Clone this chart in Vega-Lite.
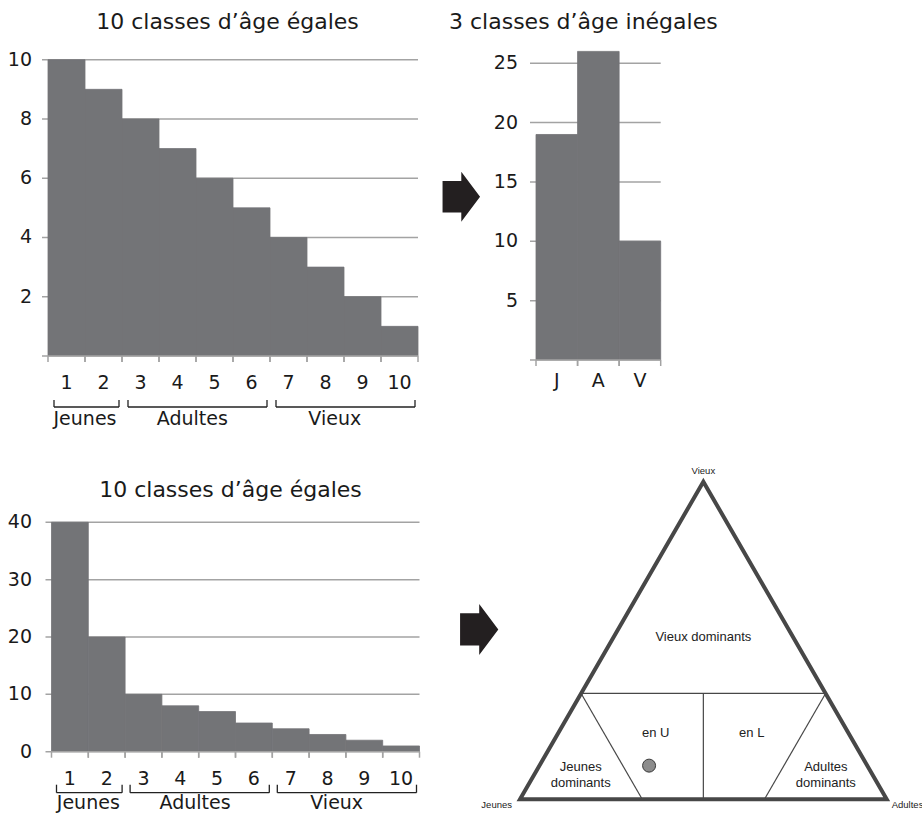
{
  "$schema": "https://vega.github.io/schema/vega-lite/v6.json",
  "width": 922,
  "height": 814,
  "autosize": {"type": "none"},
  "padding": 0,
  "background": "white",
  "config": {"view": {"stroke": null}, "text": {"font": "DejaVu Sans", "color": "#1a1a1a"}},
  "datasets": {
    "histA": [
      {"cls": 1, "lo": 0, "hi": 1, "n": 10}, {"cls": 2, "lo": 1, "hi": 2, "n": 9},
      {"cls": 3, "lo": 2, "hi": 3, "n": 8}, {"cls": 4, "lo": 3, "hi": 4, "n": 7},
      {"cls": 5, "lo": 4, "hi": 5, "n": 6}, {"cls": 6, "lo": 5, "hi": 6, "n": 5},
      {"cls": 7, "lo": 6, "hi": 7, "n": 4}, {"cls": 8, "lo": 7, "hi": 8, "n": 3},
      {"cls": 9, "lo": 8, "hi": 9, "n": 2}, {"cls": 10, "lo": 9, "hi": 10, "n": 1}
    ],
    "histB": [
      {"cls": "J", "lo": 0, "hi": 1, "n": 19},
      {"cls": "A", "lo": 1, "hi": 2, "n": 26},
      {"cls": "V", "lo": 2, "hi": 3, "n": 10}
    ],
    "histC": [
      {"cls": 1, "lo": 0, "hi": 1, "n": 40}, {"cls": 2, "lo": 1, "hi": 2, "n": 20},
      {"cls": 3, "lo": 2, "hi": 3, "n": 10}, {"cls": 4, "lo": 3, "hi": 4, "n": 8},
      {"cls": 5, "lo": 4, "hi": 5, "n": 7}, {"cls": 6, "lo": 5, "hi": 6, "n": 5},
      {"cls": 7, "lo": 6, "hi": 7, "n": 4}, {"cls": 8, "lo": 7, "hi": 8, "n": 3},
      {"cls": 9, "lo": 8, "hi": 9, "n": 2}, {"cls": 10, "lo": 9, "hi": 10, "n": 1}
    ],
    "gridA": [{"v": 0}, {"v": 2}, {"v": 4}, {"v": 6}, {"v": 8}, {"v": 10}],
    "gridB": [{"v": 0}, {"v": 5}, {"v": 10}, {"v": 15}, {"v": 20}, {"v": 25}],
    "gridC": [{"v": 0}, {"v": 10}, {"v": 20}, {"v": 30}, {"v": 40}],
    "groups": [
      {"grp": "Jeunes", "lo": 0, "hi": 2, "mid": 1},
      {"grp": "Adultes", "lo": 2, "hi": 6, "mid": 3.9},
      {"grp": "Vieux", "lo": 6, "hi": 10, "mid": 7.75}
    ],
    "tri": [{"x": 0, "y": 0, "o": 1}, {"x": 0.5, "y": 1, "o": 2}, {"x": 1, "y": 0, "o": 3}],
    "seg": [
      {"x": 0.1667, "y": 0.3333, "x2": 0.8333, "y2": 0.3333},
      {"x": 0.5, "y": 0, "x2": 0.5, "y2": 0.3333},
      {"x": 0.1667, "y": 0.3333, "x2": 0.3333, "y2": 0},
      {"x": 0.8333, "y": 0.3333, "x2": 0.6667, "y2": 0}
    ],
    "zones": [
      {"t": "Vieux dominants", "x": 0.5, "y": 0.512},
      {"t": "en U", "x": 0.37, "y": 0.208},
      {"t": "en L", "x": 0.632, "y": 0.208},
      {"t": ["Jeunes", "dominants"], "x": 0.1655, "y": 0.101},
      {"t": ["Adultes", "dominants"], "x": 0.834, "y": 0.101}
    ],
    "sample": [{"x": 0.352, "y": 0.106}]
  },
  "layer": [
    {
      "layer": [
        {"data": {"name": "gridA"}, "transform": [{"filter": "datum.v > 0"}],
         "mark": {"type": "rule", "xOffset": -6, "color": "#a3a3a3", "strokeWidth": 1.5},
         "encoding": {
           "y": {"field": "v", "type": "quantitative", "scale": {"domain": [0, 10], "range": [356, 59.7], "nice": false, "zero": false}, "axis": null},
           "x": {"datum": 0, "type": "quantitative", "scale": {"domain": [0, 10], "range": [48, 418], "nice": false, "zero": false}, "axis": null},
           "x2": {"datum": 10}}},
        {"data": {"name": "histA"}, "mark": {"type": "rect", "color": "#737477", "stroke": "#737477", "strokeWidth": 0.8},
         "encoding": {
           "x": {"field": "lo", "type": "quantitative", "scale": {"domain": [0, 10], "range": [48, 418], "nice": false, "zero": false}, "axis": null},
           "x2": {"field": "hi"},
           "y": {"field": "n", "type": "quantitative", "scale": {"domain": [0, 10], "range": [356, 59.7], "nice": false, "zero": false}, "axis": null},
           "y2": {"datum": 0}}},
        {"data": {"name": "gridA"}, "transform": [{"filter": "datum.v == 0"}],
         "mark": {"type": "rule", "xOffset": -6, "color": "#a3a3a3", "strokeWidth": 1.5},
         "encoding": {
           "y": {"field": "v", "type": "quantitative", "scale": {"domain": [0, 10], "range": [356, 59.7], "nice": false, "zero": false}, "axis": null},
           "x": {"datum": 0, "type": "quantitative", "scale": {"domain": [0, 10], "range": [48, 418], "nice": false, "zero": false}, "axis": null},
           "x2": {"datum": 10}}},
        {"data": {"name": "histA"}, "mark": {"type": "rule", "y2Offset": 6, "color": "#a3a3a3", "strokeWidth": 1.5},
         "encoding": {
           "x": {"field": "lo", "type": "quantitative", "scale": {"domain": [0, 10], "range": [48, 418], "nice": false, "zero": false}, "axis": null},
           "y": {"datum": 0, "type": "quantitative", "scale": {"domain": [0, 10], "range": [356, 59.7], "nice": false, "zero": false}, "axis": null},
           "y2": {"datum": 0}}},
        {"data": {"name": "histA"}, "mark": {"type": "rule", "y2Offset": 6, "color": "#a3a3a3", "strokeWidth": 1.5},
         "encoding": {
           "x": {"field": "hi", "type": "quantitative", "scale": {"domain": [0, 10], "range": [48, 418], "nice": false, "zero": false}, "axis": null},
           "y": {"datum": 0, "type": "quantitative", "scale": {"domain": [0, 10], "range": [356, 59.7], "nice": false, "zero": false}, "axis": null},
           "y2": {"datum": 0}}},
        {"data": {"name": "histA"}, "mark": {"type": "text", "dx": 18.5, "dy": 27, "fontSize": 19},
         "encoding": {
           "x": {"field": "lo", "type": "quantitative", "scale": {"domain": [0, 10], "range": [48, 418], "nice": false, "zero": false}, "axis": null},
           "y": {"datum": 0, "type": "quantitative", "scale": {"domain": [0, 10], "range": [356, 59.7], "nice": false, "zero": false}, "axis": null},
           "text": {"field": "cls", "type": "nominal"}}},
        {"data": {"name": "gridA"}, "transform": [{"filter": "datum.v > 0"}],
         "mark": {"type": "text", "align": "right", "dx": -16, "fontSize": 19},
         "encoding": {
           "x": {"datum": 0, "type": "quantitative", "scale": {"domain": [0, 10], "range": [48, 418], "nice": false, "zero": false}, "axis": null},
           "y": {"field": "v", "type": "quantitative", "scale": {"domain": [0, 10], "range": [356, 59.7], "nice": false, "zero": false}, "axis": null},
           "text": {"field": "v", "type": "nominal"}}},
        {"data": {"name": "groups"}, "mark": {"type": "rule", "xOffset": 6, "x2Offset": -3, "yOffset": 51, "color": "#222222", "strokeWidth": 1.3},
         "encoding": {
           "x": {"field": "lo", "type": "quantitative", "scale": {"domain": [0, 10], "range": [48, 418], "nice": false, "zero": false}, "axis": null},
           "x2": {"field": "hi"},
           "y": {"datum": 0, "type": "quantitative", "scale": {"domain": [0, 10], "range": [356, 59.7], "nice": false, "zero": false}, "axis": null}}},
        {"data": {"name": "groups"}, "mark": {"type": "rule", "xOffset": 6, "yOffset": 44, "y2Offset": 51, "color": "#222222", "strokeWidth": 1.3},
         "encoding": {
           "x": {"field": "lo", "type": "quantitative", "scale": {"domain": [0, 10], "range": [48, 418], "nice": false, "zero": false}, "axis": null},
           "y": {"datum": 0, "type": "quantitative", "scale": {"domain": [0, 10], "range": [356, 59.7], "nice": false, "zero": false}, "axis": null},
           "y2": {"datum": 0}}},
        {"data": {"name": "groups"}, "mark": {"type": "rule", "xOffset": -3, "yOffset": 44, "y2Offset": 51, "color": "#222222", "strokeWidth": 1.3},
         "encoding": {
           "x": {"field": "hi", "type": "quantitative", "scale": {"domain": [0, 10], "range": [48, 418], "nice": false, "zero": false}, "axis": null},
           "y": {"datum": 0, "type": "quantitative", "scale": {"domain": [0, 10], "range": [356, 59.7], "nice": false, "zero": false}, "axis": null},
           "y2": {"datum": 0}}},
        {"data": {"name": "groups"}, "mark": {"type": "text", "dy": 63, "fontSize": 19},
         "encoding": {
           "x": {"field": "mid", "type": "quantitative", "scale": {"domain": [0, 10], "range": [48, 418], "nice": false, "zero": false}, "axis": null},
           "y": {"datum": 0, "type": "quantitative", "scale": {"domain": [0, 10], "range": [356, 59.7], "nice": false, "zero": false}, "axis": null},
           "text": {"field": "grp", "type": "nominal"}}},
        {"data": {"values": [{"t": "10 classes d’âge égales"}]}, "mark": {"type": "text", "dx": -5.5, "dy": -38, "fontSize": 22},
         "encoding": {
           "x": {"datum": 5, "type": "quantitative", "scale": {"domain": [0, 10], "range": [48, 418], "nice": false, "zero": false}, "axis": null},
           "y": {"datum": 10, "type": "quantitative", "scale": {"domain": [0, 10], "range": [356, 59.7], "nice": false, "zero": false}, "axis": null},
           "text": {"field": "t", "type": "nominal"}}}
      ]
    },
    {
      "layer": [
        {"data": {"name": "gridB"}, "transform": [{"filter": "datum.v > 0"}],
         "mark": {"type": "rule", "xOffset": -6, "color": "#a3a3a3", "strokeWidth": 1.5},
         "encoding": {
           "y": {"field": "v", "type": "quantitative", "scale": {"domain": [0, 26], "range": [360, 51.4], "nice": false, "zero": false}, "axis": null},
           "x": {"datum": 0, "type": "quantitative", "scale": {"domain": [0, 3], "range": [536, 660.7], "nice": false, "zero": false}, "axis": null},
           "x2": {"datum": 3}}},
        {"data": {"name": "histB"}, "mark": {"type": "rect", "color": "#737477", "stroke": "#737477", "strokeWidth": 0.8},
         "encoding": {
           "x": {"field": "lo", "type": "quantitative", "scale": {"domain": [0, 3], "range": [536, 660.7], "nice": false, "zero": false}, "axis": null},
           "x2": {"field": "hi"},
           "y": {"field": "n", "type": "quantitative", "scale": {"domain": [0, 26], "range": [360, 51.4], "nice": false, "zero": false}, "axis": null},
           "y2": {"datum": 0}}},
        {"data": {"name": "gridB"}, "transform": [{"filter": "datum.v == 0"}],
         "mark": {"type": "rule", "xOffset": -6, "color": "#a3a3a3", "strokeWidth": 1.5},
         "encoding": {
           "y": {"field": "v", "type": "quantitative", "scale": {"domain": [0, 26], "range": [360, 51.4], "nice": false, "zero": false}, "axis": null},
           "x": {"datum": 0, "type": "quantitative", "scale": {"domain": [0, 3], "range": [536, 660.7], "nice": false, "zero": false}, "axis": null},
           "x2": {"datum": 3}}},
        {"data": {"name": "histB"}, "mark": {"type": "rule", "y2Offset": 6, "color": "#a3a3a3", "strokeWidth": 1.5},
         "encoding": {
           "x": {"field": "lo", "type": "quantitative", "scale": {"domain": [0, 3], "range": [536, 660.7], "nice": false, "zero": false}, "axis": null},
           "y": {"datum": 0, "type": "quantitative", "scale": {"domain": [0, 26], "range": [360, 51.4], "nice": false, "zero": false}, "axis": null},
           "y2": {"datum": 0}}},
        {"data": {"name": "histB"}, "mark": {"type": "rule", "y2Offset": 6, "color": "#a3a3a3", "strokeWidth": 1.5},
         "encoding": {
           "x": {"field": "hi", "type": "quantitative", "scale": {"domain": [0, 3], "range": [536, 660.7], "nice": false, "zero": false}, "axis": null},
           "y": {"datum": 0, "type": "quantitative", "scale": {"domain": [0, 26], "range": [360, 51.4], "nice": false, "zero": false}, "axis": null},
           "y2": {"datum": 0}}},
        {"data": {"name": "histB"}, "mark": {"type": "text", "dx": 20.8, "dy": 21, "fontSize": 19},
         "encoding": {
           "x": {"field": "lo", "type": "quantitative", "scale": {"domain": [0, 3], "range": [536, 660.7], "nice": false, "zero": false}, "axis": null},
           "y": {"datum": 0, "type": "quantitative", "scale": {"domain": [0, 26], "range": [360, 51.4], "nice": false, "zero": false}, "axis": null},
           "text": {"field": "cls", "type": "nominal"}}},
        {"data": {"name": "gridB"}, "transform": [{"filter": "datum.v > 0"}],
         "mark": {"type": "text", "align": "right", "dx": -18, "fontSize": 19},
         "encoding": {
           "x": {"datum": 0, "type": "quantitative", "scale": {"domain": [0, 3], "range": [536, 660.7], "nice": false, "zero": false}, "axis": null},
           "y": {"field": "v", "type": "quantitative", "scale": {"domain": [0, 26], "range": [360, 51.4], "nice": false, "zero": false}, "axis": null},
           "text": {"field": "v", "type": "nominal"}}},
        {"data": {"values": [{"t": "3 classes d’âge inégales"}]}, "mark": {"type": "text", "dx": -15, "dy": -29.5, "fontSize": 22},
         "encoding": {
           "x": {"datum": 1.5, "type": "quantitative", "scale": {"domain": [0, 3], "range": [536, 660.7], "nice": false, "zero": false}, "axis": null},
           "y": {"datum": 26, "type": "quantitative", "scale": {"domain": [0, 26], "range": [360, 51.4], "nice": false, "zero": false}, "axis": null},
           "text": {"field": "t", "type": "nominal"}}},
        {"data": {"values": [{}]},
         "mark": {"type": "point", "shape": "M-0.75,-0.63L0,-0.63L0,-1L0.75,0L0,1L0,0.63L-0.75,0.63Z", "size": 2500, "filled": true, "color": "#231f20", "opacity": 1, "xOffset": -74.7},
         "encoding": {
           "x": {"datum": 0, "type": "quantitative", "scale": {"domain": [0, 3], "range": [536, 660.7], "nice": false, "zero": false}, "axis": null},
           "y": {"datum": 13.76, "type": "quantitative", "scale": {"domain": [0, 26], "range": [360, 51.4], "nice": false, "zero": false}, "axis": null}}}
      ]
    },
    {
      "layer": [
        {"data": {"name": "gridC"}, "transform": [{"filter": "datum.v > 0"}],
         "mark": {"type": "rule", "xOffset": -6, "color": "#a3a3a3", "strokeWidth": 1.5},
         "encoding": {
           "y": {"field": "v", "type": "quantitative", "scale": {"domain": [0, 40], "range": [751.7, 522.3], "nice": false, "zero": false}, "axis": null},
           "x": {"datum": 0, "type": "quantitative", "scale": {"domain": [0, 10], "range": [51.5, 419.5], "nice": false, "zero": false}, "axis": null},
           "x2": {"datum": 10}}},
        {"data": {"name": "histC"}, "mark": {"type": "rect", "color": "#737477", "stroke": "#737477", "strokeWidth": 0.8},
         "encoding": {
           "x": {"field": "lo", "type": "quantitative", "scale": {"domain": [0, 10], "range": [51.5, 419.5], "nice": false, "zero": false}, "axis": null},
           "x2": {"field": "hi"},
           "y": {"field": "n", "type": "quantitative", "scale": {"domain": [0, 40], "range": [751.7, 522.3], "nice": false, "zero": false}, "axis": null},
           "y2": {"datum": 0}}},
        {"data": {"name": "gridC"}, "transform": [{"filter": "datum.v == 0"}],
         "mark": {"type": "rule", "xOffset": -6, "color": "#a3a3a3", "strokeWidth": 1.5},
         "encoding": {
           "y": {"field": "v", "type": "quantitative", "scale": {"domain": [0, 40], "range": [751.7, 522.3], "nice": false, "zero": false}, "axis": null},
           "x": {"datum": 0, "type": "quantitative", "scale": {"domain": [0, 10], "range": [51.5, 419.5], "nice": false, "zero": false}, "axis": null},
           "x2": {"datum": 10}}},
        {"data": {"name": "histC"}, "mark": {"type": "rule", "y2Offset": 6, "color": "#a3a3a3", "strokeWidth": 1.5},
         "encoding": {
           "x": {"field": "lo", "type": "quantitative", "scale": {"domain": [0, 10], "range": [51.5, 419.5], "nice": false, "zero": false}, "axis": null},
           "y": {"datum": 0, "type": "quantitative", "scale": {"domain": [0, 40], "range": [751.7, 522.3], "nice": false, "zero": false}, "axis": null},
           "y2": {"datum": 0}}},
        {"data": {"name": "histC"}, "mark": {"type": "rule", "y2Offset": 6, "color": "#a3a3a3", "strokeWidth": 1.5},
         "encoding": {
           "x": {"field": "hi", "type": "quantitative", "scale": {"domain": [0, 10], "range": [51.5, 419.5], "nice": false, "zero": false}, "axis": null},
           "y": {"datum": 0, "type": "quantitative", "scale": {"domain": [0, 40], "range": [751.7, 522.3], "nice": false, "zero": false}, "axis": null},
           "y2": {"datum": 0}}},
        {"data": {"name": "histC"}, "mark": {"type": "text", "dx": 18.4, "dy": 27, "fontSize": 19},
         "encoding": {
           "x": {"field": "lo", "type": "quantitative", "scale": {"domain": [0, 10], "range": [51.5, 419.5], "nice": false, "zero": false}, "axis": null},
           "y": {"datum": 0, "type": "quantitative", "scale": {"domain": [0, 40], "range": [751.7, 522.3], "nice": false, "zero": false}, "axis": null},
           "text": {"field": "cls", "type": "nominal"}}},
        {"data": {"name": "gridC"},
         "mark": {"type": "text", "align": "right", "dx": -19.5, "fontSize": 19},
         "encoding": {
           "x": {"datum": 0, "type": "quantitative", "scale": {"domain": [0, 10], "range": [51.5, 419.5], "nice": false, "zero": false}, "axis": null},
           "y": {"field": "v", "type": "quantitative", "scale": {"domain": [0, 40], "range": [751.7, 522.3], "nice": false, "zero": false}, "axis": null},
           "text": {"field": "v", "type": "nominal"}}},
        {"data": {"name": "groups"}, "mark": {"type": "rule", "xOffset": 5, "x2Offset": -3, "yOffset": 41, "color": "#222222", "strokeWidth": 1.3},
         "encoding": {
           "x": {"field": "lo", "type": "quantitative", "scale": {"domain": [0, 10], "range": [51.5, 419.5], "nice": false, "zero": false}, "axis": null},
           "x2": {"field": "hi"},
           "y": {"datum": 0, "type": "quantitative", "scale": {"domain": [0, 40], "range": [751.7, 522.3], "nice": false, "zero": false}, "axis": null}}},
        {"data": {"name": "groups"}, "mark": {"type": "rule", "xOffset": 5, "yOffset": 33, "y2Offset": 41, "color": "#222222", "strokeWidth": 1.3},
         "encoding": {
           "x": {"field": "lo", "type": "quantitative", "scale": {"domain": [0, 10], "range": [51.5, 419.5], "nice": false, "zero": false}, "axis": null},
           "y": {"datum": 0, "type": "quantitative", "scale": {"domain": [0, 40], "range": [751.7, 522.3], "nice": false, "zero": false}, "axis": null},
           "y2": {"datum": 0}}},
        {"data": {"name": "groups"}, "mark": {"type": "rule", "xOffset": -3, "yOffset": 33, "y2Offset": 41, "color": "#222222", "strokeWidth": 1.3},
         "encoding": {
           "x": {"field": "hi", "type": "quantitative", "scale": {"domain": [0, 10], "range": [51.5, 419.5], "nice": false, "zero": false}, "axis": null},
           "y": {"datum": 0, "type": "quantitative", "scale": {"domain": [0, 40], "range": [751.7, 522.3], "nice": false, "zero": false}, "axis": null},
           "y2": {"datum": 0}}},
        {"data": {"name": "groups"}, "mark": {"type": "text", "dy": 51, "fontSize": 19},
         "encoding": {
           "x": {"field": "mid", "type": "quantitative", "scale": {"domain": [0, 10], "range": [51.5, 419.5], "nice": false, "zero": false}, "axis": null},
           "y": {"datum": 0, "type": "quantitative", "scale": {"domain": [0, 40], "range": [751.7, 522.3], "nice": false, "zero": false}, "axis": null},
           "text": {"field": "grp", "type": "nominal"}}},
        {"data": {"values": [{"t": "10 classes d’âge égales"}]}, "mark": {"type": "text", "dx": -5, "dy": -32, "fontSize": 22},
         "encoding": {
           "x": {"datum": 5, "type": "quantitative", "scale": {"domain": [0, 10], "range": [51.5, 419.5], "nice": false, "zero": false}, "axis": null},
           "y": {"datum": 40, "type": "quantitative", "scale": {"domain": [0, 40], "range": [751.7, 522.3], "nice": false, "zero": false}, "axis": null},
           "text": {"field": "t", "type": "nominal"}}}
      ]
    },
    {
      "layer": [
        {"data": {"name": "seg"}, "mark": {"type": "rule", "color": "#474747", "strokeWidth": 1.2},
         "encoding": {
           "x": {"field": "x", "type": "quantitative", "scale": {"domain": [0, 1], "range": [520, 886.7], "nice": false, "zero": false}, "axis": null},
           "y": {"field": "y", "type": "quantitative", "scale": {"domain": [0, 1], "range": [799.3, 481.7], "nice": false, "zero": false}, "axis": null},
           "x2": {"field": "x2"},
           "y2": {"field": "y2"}}},
        {"data": {"name": "tri"}, "mark": {"type": "line", "interpolate": "linear-closed", "strokeWidth": 4, "color": "#474747", "strokeJoin": "miter"},
         "encoding": {
           "x": {"field": "x", "type": "quantitative", "scale": {"domain": [0, 1], "range": [520, 886.7], "nice": false, "zero": false}, "axis": null},
           "y": {"field": "y", "type": "quantitative", "scale": {"domain": [0, 1], "range": [799.3, 481.7], "nice": false, "zero": false}, "axis": null},
           "order": {"field": "o", "type": "quantitative"}}},
        {"data": {"name": "zones"}, "mark": {"type": "text", "font": "Liberation Sans", "fontSize": 13, "lineHeight": 15.7, "color": "#222222"},
         "encoding": {
           "x": {"field": "x", "type": "quantitative", "scale": {"domain": [0, 1], "range": [520, 886.7], "nice": false, "zero": false}, "axis": null},
           "y": {"field": "y", "type": "quantitative", "scale": {"domain": [0, 1], "range": [799.3, 481.7], "nice": false, "zero": false}, "axis": null},
           "text": {"field": "t", "type": "nominal"}}},
        {"data": {"name": "sample"}, "mark": {"type": "point", "shape": "circle", "size": 169, "filled": true, "fill": "#8c8c8c", "stroke": "#3a3a3a", "strokeWidth": 1, "opacity": 1},
         "encoding": {
           "x": {"field": "x", "type": "quantitative", "scale": {"domain": [0, 1], "range": [520, 886.7], "nice": false, "zero": false}, "axis": null},
           "y": {"field": "y", "type": "quantitative", "scale": {"domain": [0, 1], "range": [799.3, 481.7], "nice": false, "zero": false}, "axis": null}}},
        {"data": {"values": [{"t": "Vieux"}]}, "mark": {"type": "text", "font": "Liberation Sans", "fontSize": 9.5, "dy": -11, "color": "#222222"},
         "encoding": {
           "x": {"datum": 0.5, "type": "quantitative", "scale": {"domain": [0, 1], "range": [520, 886.7], "nice": false, "zero": false}, "axis": null},
           "y": {"datum": 1, "type": "quantitative", "scale": {"domain": [0, 1], "range": [799.3, 481.7], "nice": false, "zero": false}, "axis": null},
           "text": {"field": "t", "type": "nominal"}}},
        {"data": {"values": [{"t": "Jeunes"}]}, "mark": {"type": "text", "font": "Liberation Sans", "fontSize": 9.5, "align": "right", "dx": -8, "dy": 6, "color": "#222222"},
         "encoding": {
           "x": {"datum": 0, "type": "quantitative", "scale": {"domain": [0, 1], "range": [520, 886.7], "nice": false, "zero": false}, "axis": null},
           "y": {"datum": 0, "type": "quantitative", "scale": {"domain": [0, 1], "range": [799.3, 481.7], "nice": false, "zero": false}, "axis": null},
           "text": {"field": "t", "type": "nominal"}}},
        {"data": {"values": [{"t": "Adultes"}]}, "mark": {"type": "text", "font": "Liberation Sans", "fontSize": 9.5, "align": "left", "dx": 5, "dy": 6, "color": "#222222"},
         "encoding": {
           "x": {"datum": 1, "type": "quantitative", "scale": {"domain": [0, 1], "range": [520, 886.7], "nice": false, "zero": false}, "axis": null},
           "y": {"datum": 0, "type": "quantitative", "scale": {"domain": [0, 1], "range": [799.3, 481.7], "nice": false, "zero": false}, "axis": null},
           "text": {"field": "t", "type": "nominal"}}},
        {"data": {"values": [{}]},
         "mark": {"type": "point", "shape": "M-0.75,-0.63L0,-0.63L0,-1L0.75,0L0,1L0,0.63L-0.75,0.63Z", "size": 2600, "filled": true, "color": "#231f20", "opacity": 1, "xOffset": -40.8},
         "encoding": {
           "x": {"datum": 0, "type": "quantitative", "scale": {"domain": [0, 1], "range": [520, 886.7], "nice": false, "zero": false}, "axis": null},
           "y": {"datum": 0.535, "type": "quantitative", "scale": {"domain": [0, 1], "range": [799.3, 481.7], "nice": false, "zero": false}, "axis": null}}}
      ]
    }
  ],
  "resolve": {"scale": {"x": "independent", "y": "independent"}}
}
